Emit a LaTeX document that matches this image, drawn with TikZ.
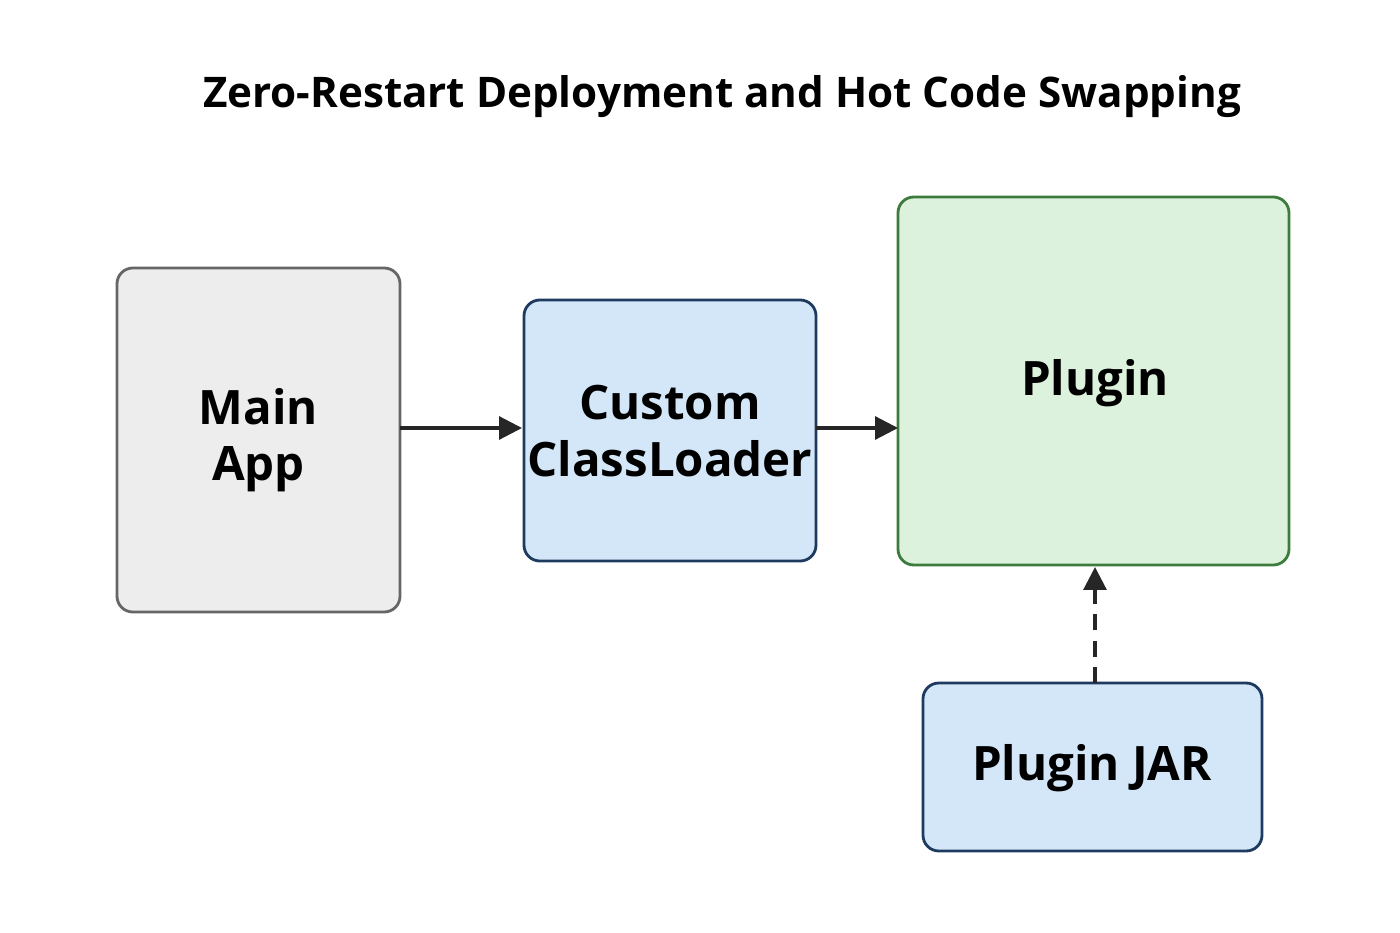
\documentclass[tikz,border=0pt]{standalone}
\usepackage{fontspec}
\setmainfont{Open Sans}
\usetikzlibrary{arrows.meta}
\begin{document}
\begin{tikzpicture}[x=0.02cm,y=-0.02cm,
  box/.style={rounded corners=9pt,line width=1.6pt},
  lbl/.style={font=\fontsize{27}{32}\selectfont\bfseries,align=center},
  arr/.style={line width=1.8pt,draw=black!85,-{Triangle[length=13pt,width=13pt]}}]
\useasboundingbox (0,0) rectangle (1400,933);
\node[font=\fontsize{24}{28}\selectfont\bfseries] (title) at (722,97) {Zero-Restart Deployment and Hot Code Swapping};
\draw[box,fill=black!7,draw=black!60] (117,268) rectangle (400,612);
\node[lbl] (main) at (258.5,440) {Main\\App};
\coordinate (mainE) at (400,428);
\draw[box,fill=blue!15!cyan!5!white,fill={rgb,255:red,211;green,231;blue,249},draw={rgb,255:red,31;green,58;blue,95}] (524,300) rectangle (816,561);
\node[lbl] (cl) at (670,431) {Custom\\ClassLoader};
\coordinate (clW) at (522,428);
\coordinate (clE) at (816,428);
\draw[box,fill={rgb,255:red,221;green,242;blue,221},draw={rgb,255:red,61;green,122;blue,61}] (898,197) rectangle (1289,565);
\node[lbl] (plugin) at (1095,383) {Plugin};
\coordinate (plW) at (898,428);
\coordinate (plS) at (1095,567);
\draw[box,fill={rgb,255:red,211;green,231;blue,249},draw={rgb,255:red,31;green,58;blue,95}] (923,683) rectangle (1262,851);
\node[lbl] (jar) at (1092,768) {Plugin JAR};
\coordinate (jarN) at (1095,683);
\draw[arr] (mainE) -- (clW);
\draw[arr] (clE) -- (plW);
\draw[arr,dash pattern=on 9pt off 6pt] (jarN) -- (plS);
\end{tikzpicture}
\end{document}
